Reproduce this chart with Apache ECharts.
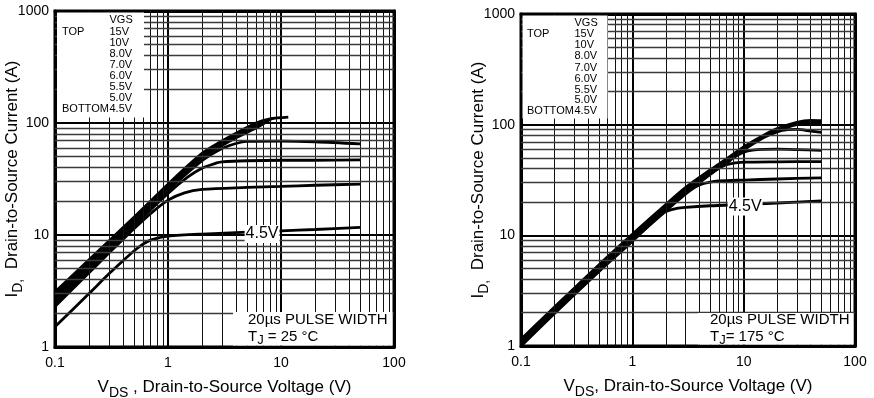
<!DOCTYPE html>
<html>
<head>
<meta charset="utf-8">
<script src="https://cdn.jsdelivr.net/npm/echarts@6/dist/echarts.min.js"></script>
<style>
  html, body { margin: 0; padding: 0; background: #fff; }
  #main { width: 874px; height: 398px; }
</style>
</head>
<body>
<div id="main"></div>
<script>
var FONT = '"Liberation Sans", Arial, Helvetica, sans-serif';

// legend rows (gate voltages, top to bottom)
var vgsLabels = ['15V', '10V', '8.0V', '7.0V', '6.0V', '5.5V', '5.0V', '4.5V'];

// ---- TJ = 25 °C : VDS (V) / ID (A) ----
var v25_15 = [0.1, 0.2, 0.5, 1, 2, 3, 4, 6, 8, 11.6];
var i25_15 = [3.1, 6.0, 14.4, 28.4, 53.5, 69, 81, 100, 109, 113];
var v25_10 = [0.1, 0.2, 0.5, 1, 2, 3, 4, 6, 8.5];
var i25_10 = [2.95, 5.75, 13.9, 27.6, 52, 67, 79, 97, 110];
var v25_8 = [0.1, 0.2, 0.5, 1, 2, 3, 4, 6, 8];
var i25_8 = [2.8, 5.5, 13.5, 26.8, 50.5, 65, 77, 94, 107];
var v25_7 = [0.1, 0.2, 0.5, 1, 2, 3, 4, 6, 7.5];
var i25_7 = [2.65, 5.3, 13.1, 26, 49, 63, 74, 90, 103];
var v25_6 = [0.1, 0.2, 0.5, 1, 2, 2.7, 3.5, 5, 10, 20, 50];
var i25_6 = [2.5, 5.05, 12.6, 25, 46, 56, 63, 68.5, 69, 68, 65];
var v25_55 = [0.1, 0.2, 0.5, 1, 1.5, 2, 2.7, 3, 5, 10, 20, 50];
var i25_55 = [2.4, 4.85, 12.1, 23.5, 33, 39.5, 44, 45, 46, 46.5, 46.5, 46.8];
var v25_5 = [0.1, 0.2, 0.3, 0.46, 0.7, 1, 1.4, 2, 5, 10, 20, 50];
var i25_5 = [2.3, 4.6, 6.9, 10.5, 15.5, 20.5, 23.8, 25.5, 26.6, 27.2, 27.8, 28.5];
var v25_45 = [0.1, 0.2, 0.3, 0.4, 0.5, 0.6, 0.7, 0.85, 1, 2, 5, 10, 20, 50];
var i25_45 = [1.52, 3.0, 4.5, 5.9, 7.2, 8.3, 9.0, 9.5, 9.8, 10.2, 10.6, 10.9, 11.2, 11.7];

// ---- TJ = 175 °C ----
var v175_top = [0.1, 0.2, 0.5, 1, 2, 3, 5, 7, 10, 15, 20, 30, 40, 50];
var i175_15 = [1.15, 2.25, 5.4, 10.2, 19, 27, 39, 49, 63, 80, 92, 105, 109, 108.5];
var i175_10 = [1.12, 2.2, 5.3, 10, 18.6, 26.5, 38.4, 48, 62, 78.5, 90, 103, 106, 106];
var i175_8 = [1.09, 2.15, 5.2, 9.8, 18.2, 26, 37.6, 47, 60.5, 77, 88, 100, 103, 103];
var v175_7 = [0.1, 0.2, 0.5, 1, 2, 3, 5, 7, 10, 15, 20, 25, 30, 40, 50];
var i175_7 = [1.07, 2.1, 5.1, 9.6, 17.8, 25.4, 36.8, 46, 59, 76, 86, 90, 90.5, 87.5, 85];
var v175_6 = [0.1, 0.2, 0.5, 1, 2, 3, 5, 7, 8, 10, 12, 20, 30, 50];
var i175_6 = [1.05, 2.07, 5.0, 9.4, 17.4, 24.8, 35.8, 44.5, 50, 56.5, 59, 60, 59.5, 58.5];
var v175_55 = [0.1, 0.2, 0.5, 1, 2, 3, 4, 5, 6, 7, 10, 20, 50];
var i175_55 = [1.03, 2.03, 4.9, 9.2, 17, 24.2, 30, 35.5, 40.5, 43.5, 45.8, 46.2, 46.3];
var v175_5 = [0.1, 0.2, 0.5, 1, 2, 2.5, 3, 3.5, 4, 5, 6, 10, 20, 50];
var i175_5 = [1.01, 2.0, 4.8, 9.0, 16.6, 20.2, 23.6, 26.5, 28.6, 30.3, 31, 31.6, 32.3, 33.1];
var v175_45 = [0.1, 0.2, 0.5, 1, 1.3, 1.6, 2, 2.5, 3, 5, 10, 20, 50];
var i175_45 = [1.0, 1.97, 4.7, 8.8, 11.4, 13.9, 16.4, 17.5, 17.9, 18.5, 19.0, 19.6, 20.5];

// where the "4.5V" tag sits on the lowest curve
var tag25 = [6.8, 10.2];
var tag175 = [10.3, 18.2];

// minor grid lines (2..9 of each decade)
var xDecades = [0.1, 1, 10];
var yDecades = [1, 10, 100];
var mults = [2, 3, 4, 5, 6, 7, 8, 9];

function minorOf(decades) {
    var out = [];
    decades.forEach(function (d) {
        mults.forEach(function (m) { out.push(+(m * d).toPrecision(3)); });
    });
    return out;
}
var xMinor = minorOf(xDecades);
var yMinor = minorOf(yDecades);

function zip(v, i) {
    return v.map(function (x, k) { return [x, i[k]]; });
}

var curves25 = [
    [v25_15, i25_15], [v25_10, i25_10], [v25_8, i25_8], [v25_7, i25_7],
    [v25_6, i25_6], [v25_55, i25_55], [v25_5, i25_5], [v25_45, i25_45]
];
var curves175 = [
    [v175_top, i175_15], [v175_top, i175_10], [v175_top, i175_8], [v175_7, i175_7],
    [v175_6, i175_6], [v175_55, i175_55], [v175_5, i175_5], [v175_45, i175_45]
];

var series = [];

function gridSeries(idx) {
    var lines = xMinor.map(function (v) {
        return { xAxis: v, lineStyle: { color: '#111', width: 1, type: 'solid' } };
    }).concat(yMinor.map(function (v) {
        return { yAxis: v, lineStyle: { color: '#3a3a3a', width: 1.4, type: 'solid' } };
    }));
    return {
        type: 'line', xAxisIndex: idx, yAxisIndex: idx, data: [], z: 1,
        silent: true,
        markLine: {
            silent: true, symbol: ['none', 'none'], label: { show: false },
            animation: false, lineStyle: { type: 'solid' }, data: lines
        }
    };
}

function curveSeries(idx, list, tag) {
    list.forEach(function (c, k) {
        var s = {
            type: 'line', name: vgsLabels[k], xAxisIndex: idx, yAxisIndex: idx,
            data: zip(c[0], c[1]), showSymbol: false, symbol: 'none',
            smooth: 0.3, z: 3,
            lineStyle: { color: '#000', width: 2.8 }
        };
        if (k === list.length - 1) {
            s.markPoint = {
                symbol: 'circle', symbolSize: 1,
                itemStyle: { color: 'rgba(0,0,0,0)' },
                label: {
                    show: true, position: 'inside', formatter: '4.5V',
                    color: '#000', fontFamily: FONT, fontSize: 16,
                    backgroundColor: '#fff', padding: [1, 1]
                },
                data: [{ coord: tag }]
            };
        }
        series.push(s);
    });
}

series.push(gridSeries(0));
series.push(gridSeries(1));
curveSeries(0, curves25, tag25);
curveSeries(1, curves175, tag175);

var nameRich = {
    m: { fontFamily: FONT, fontSize: 17, lineHeight: 26, color: '#000' },
    s: { fontFamily: FONT, fontSize: 14, lineHeight: 14, color: '#000', verticalAlign: 'bottom' }
};

function plain(v) { return String(v); }

function xAx(idx, name) {
    return {
        type: 'log', logBase: 10, gridIndex: idx, min: 0.1, max: 100,
        axisLine: { show: true, lineStyle: { color: '#000', width: 3 } },
        axisTick: { show: false },
        axisLabel: { color: '#000', fontFamily: FONT, fontSize: 14, margin: 9, formatter: plain },
        splitLine: { show: true, lineStyle: { color: '#000', width: 2 } },
        name: name, nameLocation: 'middle', nameGap: 27, nameMoveOverlap: false,
        nameTextStyle: { rich: nameRich }
    };
}

function yAx(idx, name) {
    return {
        type: 'log', logBase: 10, gridIndex: idx, min: 1, max: 1000,
        axisLine: { show: true, lineStyle: { color: '#000', width: 3 } },
        axisTick: { show: false },
        axisLabel: { color: '#000', fontFamily: FONT, fontSize: 14, margin: 6, formatter: plain },
        splitLine: { show: true, lineStyle: { color: '#000', width: 2 } },
        name: name, nameLocation: 'middle', nameGap: 30, nameMoveOverlap: false,
        nameTextStyle: { rich: nameRich }
    };
}

// frame axes on the top and right edges
function xFrame(idx) {
    return {
        type: 'log', logBase: 10, gridIndex: idx, min: 0.1, max: 100, position: 'top',
        axisLine: { show: true, lineStyle: { color: '#000', width: 3 } },
        axisTick: { show: false }, axisLabel: { show: false }, splitLine: { show: false }
    };
}
function yFrame(idx) {
    return {
        type: 'log', logBase: 10, gridIndex: idx, min: 1, max: 1000, position: 'right',
        axisLine: { show: true, lineStyle: { color: '#000', width: 3 } },
        axisTick: { show: false }, axisLabel: { show: false }, splitLine: { show: false }
    };
}

var yName = '{m|I}{s|D,}{m|  Drain-to-Source Current (A)}';

// legend boxes and notes
var graphic = [];
function legendBox(x0, y0, w, h, colL, colR, yHead, rows) {
    graphic.push({ type: 'rect', z: 100, shape: { x: x0, y: y0, width: w, height: h }, style: { fill: '#fff' } });
    var t = function (x, y, s) {
        graphic.push({ type: 'text', z: 101, x: x, y: y,
            style: { text: s, fontFamily: FONT, fontSize: 11, fill: '#000', verticalAlign: 'middle', align: 'left' } });
    };
    t(colR, yHead, 'VGS');
    t(colL, rows[0], 'TOP');
    t(colL, rows[rows.length - 1], 'BOTTOM');
    vgsLabels.forEach(function (lab, k) { t(colR, rows[k], lab); });
}
legendBox(57, 12.5, 87, 105, 62, 109.5, 20, [32, 43, 53.5, 64.5, 76, 87, 98, 109]);
legendBox(522.5, 15.5, 85, 103, 527, 574.5, 22.5, [34, 45, 56, 67.5, 78.7, 89.7, 100, 111]);

function noteBox(x0, y0, w, h, tx, tj) {
    graphic.push({ type: 'rect', z: 100, shape: { x: x0, y: y0, width: w, height: h }, style: { fill: '#fff' } });
    graphic.push({ type: 'text', z: 101, x: tx, y: 320,
        style: { text: '20\u00b5s PULSE WIDTH', fontFamily: FONT, fontSize: 15, fill: '#000', verticalAlign: 'middle' } });
    graphic.push({ type: 'text', z: 101, x: tx, y: 337,
        style: {
            text: tj, fill: '#000', verticalAlign: 'middle',
            rich: {
                m: { fontFamily: FONT, fontSize: 15, lineHeight: 20, fill: '#000', color: '#000' },
                s: { fontFamily: FONT, fontSize: 13, lineHeight: 13, fill: '#000', color: '#000', verticalAlign: 'bottom' }
            }
        } });
}
noteBox(233, 312, 159.5, 33.5, 248, '{m|T}{s|J}{m| = 25 \u00b0C}');
noteBox(698, 313, 155.5, 31.5, 710, '{m|T}{s|J}{m|= 175 \u00b0C}');

var chart = echarts.init(document.getElementById('main'));
chart.setOption({
    animation: false,
    backgroundColor: '#fff',
    textStyle: { fontFamily: FONT },
    grid: [
        { left: 55, top: 11, width: 339, height: 336, show: true, borderColor: '#000', borderWidth: 3,
          backgroundColor: '#fff', containLabel: false, outerBoundsMode: 'none' },
        { left: 521, top: 14, width: 334, height: 332, show: true, borderColor: '#000', borderWidth: 3,
          backgroundColor: '#fff', containLabel: false, outerBoundsMode: 'none' }
    ],
    xAxis: [
        xAx(0, '{m|V}{s|DS}{m| , Drain-to-Source Voltage (V)}'),
        xAx(1, '{m|V}{s|DS}{m|, Drain-to-Source Voltage (V)}'),
        xFrame(0), xFrame(1)
    ],
    yAxis: [yAx(0, yName), yAx(1, yName), yFrame(0), yFrame(1)],
    series: series,
    graphic: graphic
});
</script>
</body>
</html>
